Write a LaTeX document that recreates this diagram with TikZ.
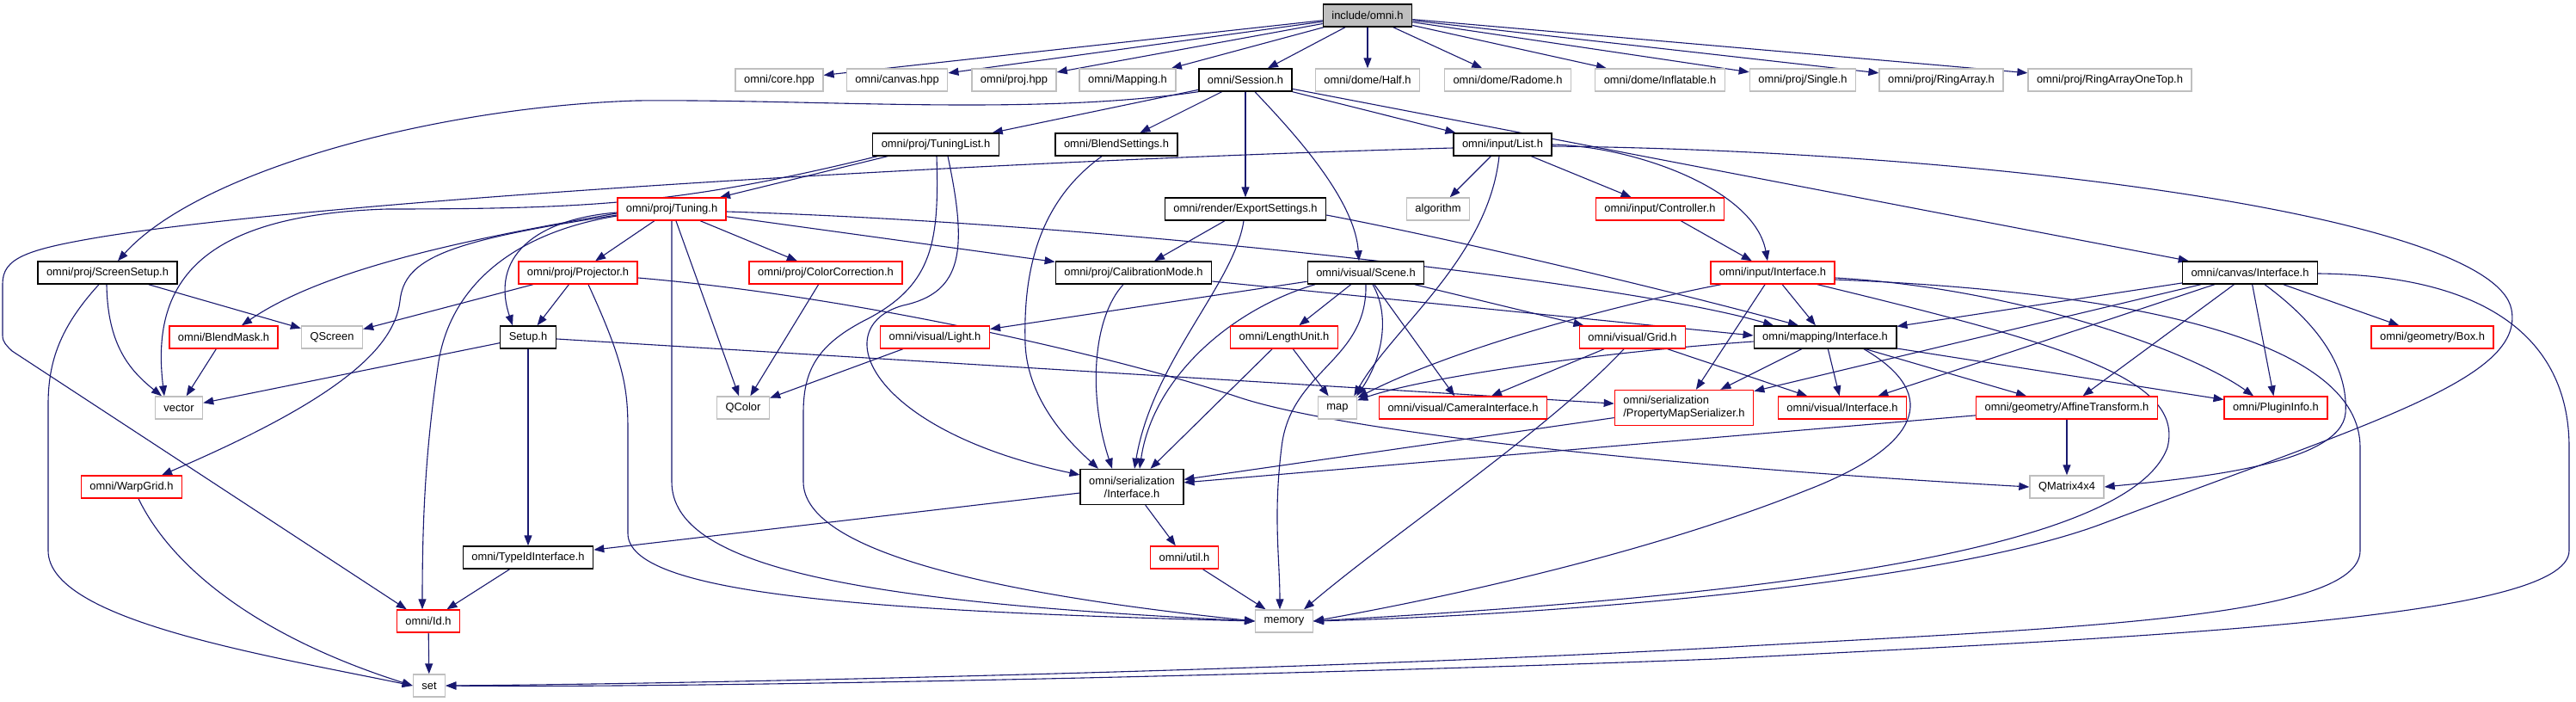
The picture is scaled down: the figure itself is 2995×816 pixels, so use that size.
\documentclass[tikz,border=0pt]{standalone}
\usepackage{fontspec}
\newfontfamily\lsans{Liberation Sans}
\usetikzlibrary{arrows.meta}
\definecolor{edgec}{HTML}{191970}
\definecolor{boxgray}{HTML}{BFBFBF}
\definecolor{boxred}{HTML}{FF0000}
\pgfdeclarelayer{bglayer}
\pgfdeclarelayer{edgelayer}
\pgfsetlayers{bglayer,edgelayer,main}
\tikzset{
  nbox/.style={rectangle, fill=white, line width=1.4pt, minimum height=26pt,
    inner xsep=10pt, inner ysep=2pt, font={\lsans\fontsize{12.9pt}{15pt}\selectfont}},
  blk/.style={nbox, draw=black},
  rbox/.style={nbox, draw=boxred},
  gbox/.style={nbox, draw=boxgray},
  rootbox/.style={nbox, draw=black, fill=boxgray},
  dep/.style={draw=edgec, line width=1.1pt, -{Triangle[length=12pt,width=9pt]}},
}
\begin{document}
\begin{tikzpicture}[x=1pt,y=1pt]
\begin{pgfonlayer}{bglayer}
\fill[white] (0,0) rectangle (2995,-816);
\end{pgfonlayer}
\useasboundingbox (0,0) rectangle (2995,-816);
% ---------- nodes ----------
\node[rootbox] (omni) at (1590,-18) {include/omni.h};
\node[gbox] (core) at (906,-93) {omni/core.hpp};
\node[gbox] (canvashpp) at (1043,-93) {omni/canvas.hpp};
\node[gbox] (projhpp) at (1179,-93) {omni/proj.hpp};
\node[gbox] (Mapping) at (1311,-93) {omni/Mapping.h};
\node[blk] (Session) at (1448,-93) {omni/Session.h};
\node[gbox] (Half) at (1590,-93) {omni/dome/Half.h};
\node[gbox] (Radome) at (1753,-93) {omni/dome/Radome.h};
\node[gbox] (Inflatable) at (1930,-93) {omni/dome/Inflatable.h};
\node[gbox] (Single) at (2096,-93) {omni/proj/Single.h};
\node[gbox] (RingArray) at (2257,-93) {omni/proj/RingArray.h};
\node[gbox] (RingArrayOneTop) at (2453,-93) {omni/proj/RingArrayOneTop.h};

\node[blk] (TuningList) at (1088,-168) {omni/proj/TuningList.h};
\node[blk] (BlendSettings) at (1298,-168) {omni/BlendSettings.h};
\node[blk] (List) at (1747,-168) {omni/input/List.h};

\node[rbox] (Tuning) at (781,-243) {omni/proj/Tuning.h};
\node[blk] (ExportSettings) at (1448,-243) {omni/render/ExportSettings.h};
\node[gbox] (algorithm) at (1672,-243) {algorithm};
\node[rbox] (Controller) at (1930,-243) {omni/input/Controller.h};

\node[blk] (ScreenSetup) at (125,-317) {omni/proj/ScreenSetup.h};
\node[rbox] (Projector) at (672,-317) {omni/proj/Projector.h};
\node[rbox] (ColorCorrection) at (960,-317) {omni/proj/ColorCorrection.h};
\node[blk] (CalibrationMode) at (1318,-317) {omni/proj/CalibrationMode.h};
\node[blk] (Scene) at (1588,-317) {omni/visual/Scene.h};
\node[rbox] (inInterface) at (2061,-317) {omni/input/Interface.h};
\node[blk] (canvasInterface) at (2616,-317) {omni/canvas/Interface.h};

\node[rbox] (BlendMask) at (260,-392) {omni/BlendMask.h};
\node[gbox] (QScreen) at (386,-392) {QScreen};
\node[blk] (Setup) at (614,-392) {Setup.h};
\node[rbox] (Light) at (1087,-392) {omni/visual/Light.h};
\node[rbox] (LengthUnit) at (1493,-392) {omni/LengthUnit.h};
\node[rbox] (Grid) at (1898,-392) {omni/visual/Grid.h};
\node[blk] (mappingInterface) at (2122,-392) {omni/mapping/Interface.h};
\node[rbox] (Box) at (2828,-392) {omni/geometry/Box.h};

\node[gbox] (vector) at (208,-474) {vector};
\node[gbox] (QColor) at (864,-474) {QColor};
\node[gbox] (map) at (1555,-474) {map};
\node[rbox] (CameraInterface) at (1701,-474) {omni/visual/CameraInterface.h};
\node[rbox, align=left, minimum height=41pt] (PMS) at (1958,-474) {omni/serialization\\/PropertyMapSerializer.h};
\node[rbox] (visualInterface) at (2142,-474) {omni/visual/Interface.h};
\node[rbox] (Affine) at (2403,-474) {omni/geometry/AffineTransform.h};
\node[rbox] (PluginInfo) at (2646,-474) {omni/PluginInfo.h};

\node[rbox] (WarpGrid) at (153,-566) {omni/WarpGrid.h};
\node[blk, align=center, minimum height=41pt] (serInterface) at (1316,-566) {omni/serialization\\/Interface.h};
\node[gbox] (QMatrix) at (2403,-566) {QMatrix4x4};

\node[blk] (TypeId) at (614,-648) {omni/TypeIdInterface.h};
\node[rbox] (util) at (1377,-648) {omni/util.h};

\node[rbox] (Id) at (498,-722) {omni/Id.h};
\node[gbox] (memory) at (1493,-722) {memory};

\node[gbox] (set) at (499,-797) {set};

\begin{pgfonlayer}{edgelayer}
% ---------- straight edges ----------
\foreach \t in {core,canvashpp,projhpp,Mapping,Session,Half,Radome,Inflatable,Single,RingArray,RingArrayOneTop}
  \draw[dep] (omni) -- (\t);
\foreach \t in {TuningList,BlendSettings,ExportSettings,List,canvasInterface}
  \draw[dep] (Session) -- (\t);
\draw[dep] (TuningList) -- (Tuning);
\draw[dep] (List) -- (algorithm);
\draw[dep] (List) -- (Controller);
\foreach \t in {Projector,ColorCorrection,QColor,CalibrationMode}
  \draw[dep] (Tuning) -- (\t);
\draw[dep] (ExportSettings) -- (CalibrationMode);
\draw[dep] (Controller) -- (inInterface);
\draw[dep] (ScreenSetup) -- (QScreen);
\draw[dep] (Projector) -- (QScreen);
\draw[dep] (Projector) -- (Setup);
\draw[dep] (ColorCorrection) -- (QColor);
\foreach \t in {Light,LengthUnit,Grid,CameraInterface}
  \draw[dep] (Scene) -- (\t);
\draw[dep] (inInterface) -- (mappingInterface);
\draw[dep] (inInterface) -- (PMS);
\foreach \t in {mappingInterface,PMS,visualInterface,Affine,PluginInfo,Box}
  \draw[dep] (canvasInterface) -- (\t);
\draw[dep] (BlendMask) -- (vector);
\draw[dep] (Setup) -- (vector);
\draw[dep] (Setup) -- (TypeId);
\draw[dep] (Setup) -- (PMS);
\draw[dep] (Light) -- (QColor);
\draw[dep] (LengthUnit) -- (map);
\draw[dep] (LengthUnit) -- (serInterface);
\draw[dep] (Grid) -- (CameraInterface);
\draw[dep] (Grid) -- (visualInterface);
\foreach \t in {PMS,visualInterface,Affine,PluginInfo}
  \draw[dep] (mappingInterface) -- (\t);
\draw[dep] (PMS) -- (serInterface);
\draw[dep] (Affine) -- (QMatrix);
\draw[dep] (Affine) -- (serInterface);
\draw[dep] (serInterface) -- (TypeId);
\draw[dep] (serInterface) -- (util);
\draw[dep] (TypeId) -- (Id);
\draw[dep] (util) -- (memory);
\draw[dep] (Id) -- (set);
\draw[dep] ([yshift=-10pt]CalibrationMode.east) -- ([yshift=2pt]mappingInterface.west);

% ---------- curved edges ----------
\draw[dep] (Session.south west) .. controls (1200,-135) and (950,-115) .. (740,-117)
  .. controls (500,-125) and (230,-200) .. ([xshift=12pt]ScreenSetup.north);
\draw[dep] ([xshift=11pt]Session.south) .. controls (1500,-150) and (1575,-230) .. ([xshift=-8pt]Scene.north);
\draw[dep] ([xshift=-68pt]TuningList.south) .. controls (800,-235) and (700,-243) .. (450,-243)
  .. controls (230,-250) and (175,-330) .. ([xshift=-17pt]vector.north);
\draw[dep] ([xshift=1pt]TuningList.south) .. controls (1092,-280) and (1085,-330) .. (1010,-370)
  .. controls (950,-400) and (934,-430) .. (934,-480) -- (934,-560)
  .. controls (934,-640) and (1150,-690) .. (memory.west);
\draw[dep] ([xshift=14pt]TuningList.south) .. controls (1125,-290) and (1120,-340) .. (1050,-355)
  .. controls (960,-380) and (1010,-500) .. ([yshift=14pt]serInterface.west);
\draw[dep] ([xshift=-17pt]BlendSettings.south) .. controls (1200,-240) and (1190,-330) .. (1192,-400)
  .. controls (1195,-470) and (1250,-520) .. ([xshift=-39pt]serInterface.north);
\draw[dep] (List.east) .. controls (1900,-170) and (2040,-220) .. ([xshift=-6pt]inInterface.north);
\draw[dep] ([xshift=-4pt]List.south) .. controls (1730,-300) and (1620,-380) .. ([xshift=-4pt]map.north east);
\draw[dep] ([yshift=-4pt]List.west) .. controls (1200,-185) and (400,-230) .. (120,-275)
  .. controls (30,-290) and (3,-300) .. (3,-330) -- (3,-390)
  .. controls (3,-398) and (8,-402) .. (14,-408) -- ([xshift=12pt]Id.north west);
\draw[dep] ([yshift=-2pt]List.east) .. controls (2300,-175) and (2900,-250) .. (2920,-360)
  .. controls (2935,-440) and (2760,-490) .. (2441,-610)
  .. controls (2250,-680) and (1800,-715) .. (memory.east);
\draw[dep] ([yshift=-5pt]Tuning.west) .. controls (560,-275) and (380,-310) .. ([xshift=21pt]BlendMask.north);
\draw[dep] ([yshift=-7pt]Tuning.west) .. controls (520,-280) and (470,-300) .. (465,-350)
  .. controls (458,-410) and (380,-470) .. ([xshift=35pt]WarpGrid.north);
\draw[dep] ([yshift=-4pt]Tuning.west) .. controls (620,-255) and (570,-300) .. ([xshift=-18pt]Setup.north);
\draw[dep] ([yshift=-8pt]Tuning.west) .. controls (600,-270) and (525,-330) .. (510,-420)
  .. controls (495,-520) and (491,-600) .. ([xshift=-7pt]Id.north);
\draw[dep] (Tuning.south) -- (781,-560) .. controls (781,-660) and (1000,-700) .. (memory.west);
\draw[dep] ([xshift=12pt]Projector.south) .. controls (725,-420) and (730,-450) .. (730,-500) -- (730,-620)
  .. controls (730,-690) and (1000,-710) .. (memory.west);
\draw[dep] ([yshift=-6pt]Projector.east) .. controls (1000,-345) and (1300,-415) .. (1444,-463)
  .. controls (1560,-500) and (1900,-540) .. (QMatrix.west);
\draw[dep] ([xshift=-1pt]ScreenSetup.south) .. controls (125,-400) and (150,-430) .. ([xshift=-20pt]vector.north);
\draw[dep] ([xshift=-10pt]ScreenSetup.south) .. controls (70,-380) and (56,-420) .. (56,-470) -- (56,-640)
  .. controls (56,-720) and (300,-760) .. (set.west);
\draw[dep] ([xshift=8pt]WarpGrid.south) .. controls (200,-660) and (300,-740) .. (set.west);
\draw[dep] ([xshift=-2pt]ExportSettings.south) .. controls (1435,-330) and (1340,-420) .. ([xshift=3pt]serInterface.north);
\draw[dep] ([yshift=-7pt]ExportSettings.east) .. controls (1700,-280) and (1950,-340) .. ([xshift=-31pt]mappingInterface.north);
\draw[dep] ([xshift=-12pt]CalibrationMode.south) .. controls (1270,-370) and (1265,-460) .. ([xshift=-23pt]serInterface.north);
\draw[dep] ([yshift=-3pt]Tuning.east) .. controls (1300,-260) and (1900,-330) .. ([xshift=-60pt]mappingInterface.north);
\draw[dep] ([xshift=8pt]Scene.south) .. controls (1618,-370) and (1605,-420) .. ([xshift=-1pt]map.north east);
\draw[dep] ([xshift=-59pt]Scene.south) .. controls (1430,-360) and (1340,-440) .. ([xshift=9pt]serInterface.north);
\draw[dep] (Scene.south) .. controls (1590,-420) and (1500,-430) .. (1490,-520)
  .. controls (1480,-600) and (1488,-650) .. ([xshift=-5pt]memory.north);
\draw[dep] ([xshift=-60pt]inInterface.south) .. controls (1900,-350) and (1700,-400) .. ([yshift=-2pt]map.north east);
\draw[dep] ([yshift=-5pt]mappingInterface.west) .. controls (1850,-410) and (1650,-440) .. ([yshift=-5pt]map.north east);
\draw[dep] ([yshift=-6pt]inInterface.east) .. controls (2350,-335) and (2550,-410) .. ([xshift=-26pt]PluginInfo.north);
\draw[dep] ([xshift=52pt]inInterface.south) .. controls (2400,-400) and (2540,-440) .. (2520,-520)
  .. controls (2470,-660) and (1900,-700) .. (memory.east);
\draw[dep] ([yshift=-8pt]inInterface.east) .. controls (2500,-340) and (2744,-400) .. (2744,-520) -- (2744,-640)
  .. controls (2744,-720) and (2400,-730) .. (1995,-753)
  .. controls (1500,-780) and (800,-795) .. (set.east);
\draw[dep] ([xshift=17pt]canvasInterface.south) .. controls (2700,-380) and (2730,-430) .. (2727,-480)
  .. controls (2722,-540) and (2550,-556) .. (QMatrix.east);
\draw[dep] ([yshift=-1pt]canvasInterface.east) .. controls (2900,-320) and (2987,-400) .. (2987,-520) -- (2987,-640)
  .. controls (2987,-720) and (2500,-740) .. (1995,-766)
  .. controls (1500,-785) and (800,-800) .. (set.east);
\draw[dep] ([xshift=45pt]mappingInterface.south) .. controls (2260,-460) and (2230,-520) .. (2100,-570)
  .. controls (1900,-650) and (1650,-700) .. (memory.east);
\draw[dep] ([xshift=-10pt]Grid.south) .. controls (1800,-500) and (1620,-620) .. ([xshift=23pt]memory.north);
\end{pgfonlayer}
\end{tikzpicture}
\end{document}
